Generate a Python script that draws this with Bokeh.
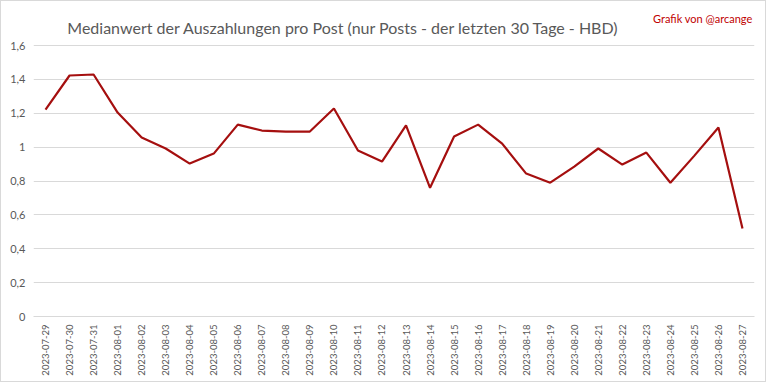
from bokeh.plotting import figure
from bokeh.models import FixedTicker, CustomJSTickFormatter, Label, Range1d
from bokeh.embed import file_html
from bokeh.resources import INLINE
import math

dates = ["2023-07-29", "2023-07-30", "2023-07-31", "2023-08-01", "2023-08-02", "2023-08-03",
         "2023-08-04", "2023-08-05", "2023-08-06", "2023-08-07", "2023-08-08", "2023-08-09",
         "2023-08-10", "2023-08-11", "2023-08-12", "2023-08-13", "2023-08-14", "2023-08-15",
         "2023-08-16", "2023-08-17", "2023-08-18", "2023-08-19", "2023-08-20", "2023-08-21",
         "2023-08-22", "2023-08-23", "2023-08-24", "2023-08-25", "2023-08-26", "2023-08-27"]
median_hbd = [1.222, 1.423, 1.429, 1.204, 1.057, 0.992, 0.903, 0.962, 1.133, 1.098, 1.092, 1.092,
              1.228, 0.980, 0.915, 1.128, 0.760, 1.063, 1.133, 1.021, 0.844, 0.790, 0.885, 0.992,
              0.897, 0.968, 0.790, 0.950, 1.116, 0.520]
y_ticks = [0, 0.2, 0.4, 0.6, 0.8, 1.0, 1.2, 1.4, 1.6]

title_text = "Medianwert der Auszahlungen pro Post (nur Posts - der letzten  30 Tage - HBD)"
credit_text = "Grafik von @arcange"

# frame spans the full top of the canvas (so the texts are not clipped); gridlines stop at 1.6
p = figure(width=766, height=382, x_range=dates, y_range=Range1d(0, 1.86),
           output_backend="svg", toolbar_location=None,
           min_border_left=32, min_border_right=13, min_border_top=0, min_border_bottom=67,
           styles={"border": "1px solid #d9d9d9"})
p.outline_line_color = None
p.background_fill_color = "white"

p.line(x=dates, y=median_hbd, line_color="#A50F0F", line_width=2.2)

p.yaxis.ticker = FixedTicker(ticks=y_ticks)
p.yaxis.formatter = CustomJSTickFormatter(code="""
var s = (Math.round(tick*10)/10).toString();
return s.replace('.', ',');
""")
p.yaxis.axis_line_color = None
p.yaxis.major_tick_line_color = None
p.yaxis.minor_tick_line_color = None
p.yaxis.major_tick_out = 0
p.yaxis.major_tick_in = 0
p.yaxis.major_label_text_color = "#595959"
p.yaxis.major_label_text_font = "Lato"
p.yaxis.major_label_text_font_size = "11px"
p.yaxis.major_label_standoff = 8

p.xaxis.axis_line_color = "#d9d9d9"
p.xaxis.major_tick_line_color = None
p.xaxis.minor_tick_line_color = None
p.xaxis.major_tick_out = 0
p.xaxis.major_tick_in = 0
p.xaxis.major_label_orientation = math.pi / 2
p.xaxis.major_label_text_color = "#595959"
p.xaxis.major_label_text_font = "Lato"
p.xaxis.major_label_text_font_size = "9.5px"
p.xaxis.major_label_standoff = 8

p.xgrid.grid_line_color = None
p.ygrid.grid_line_color = "#d9d9d9"
p.ygrid.grid_line_width = 1

p.add_layout(Label(x=312, y=289, x_units="screen", y_units="screen", text=title_text,
                   text_align="center", text_baseline="alphabetic", text_font="Lato",
                   text_font_size="16px", text_color="#595959"))
p.add_layout(Label(x=719, y=298, x_units="screen", y_units="screen", text=credit_text,
                   text_align="right", text_baseline="alphabetic", text_font="Lato",
                   text_font_size="11px", text_color="#C00000"))

open("out.html", "w").write(file_html(p, INLINE))
